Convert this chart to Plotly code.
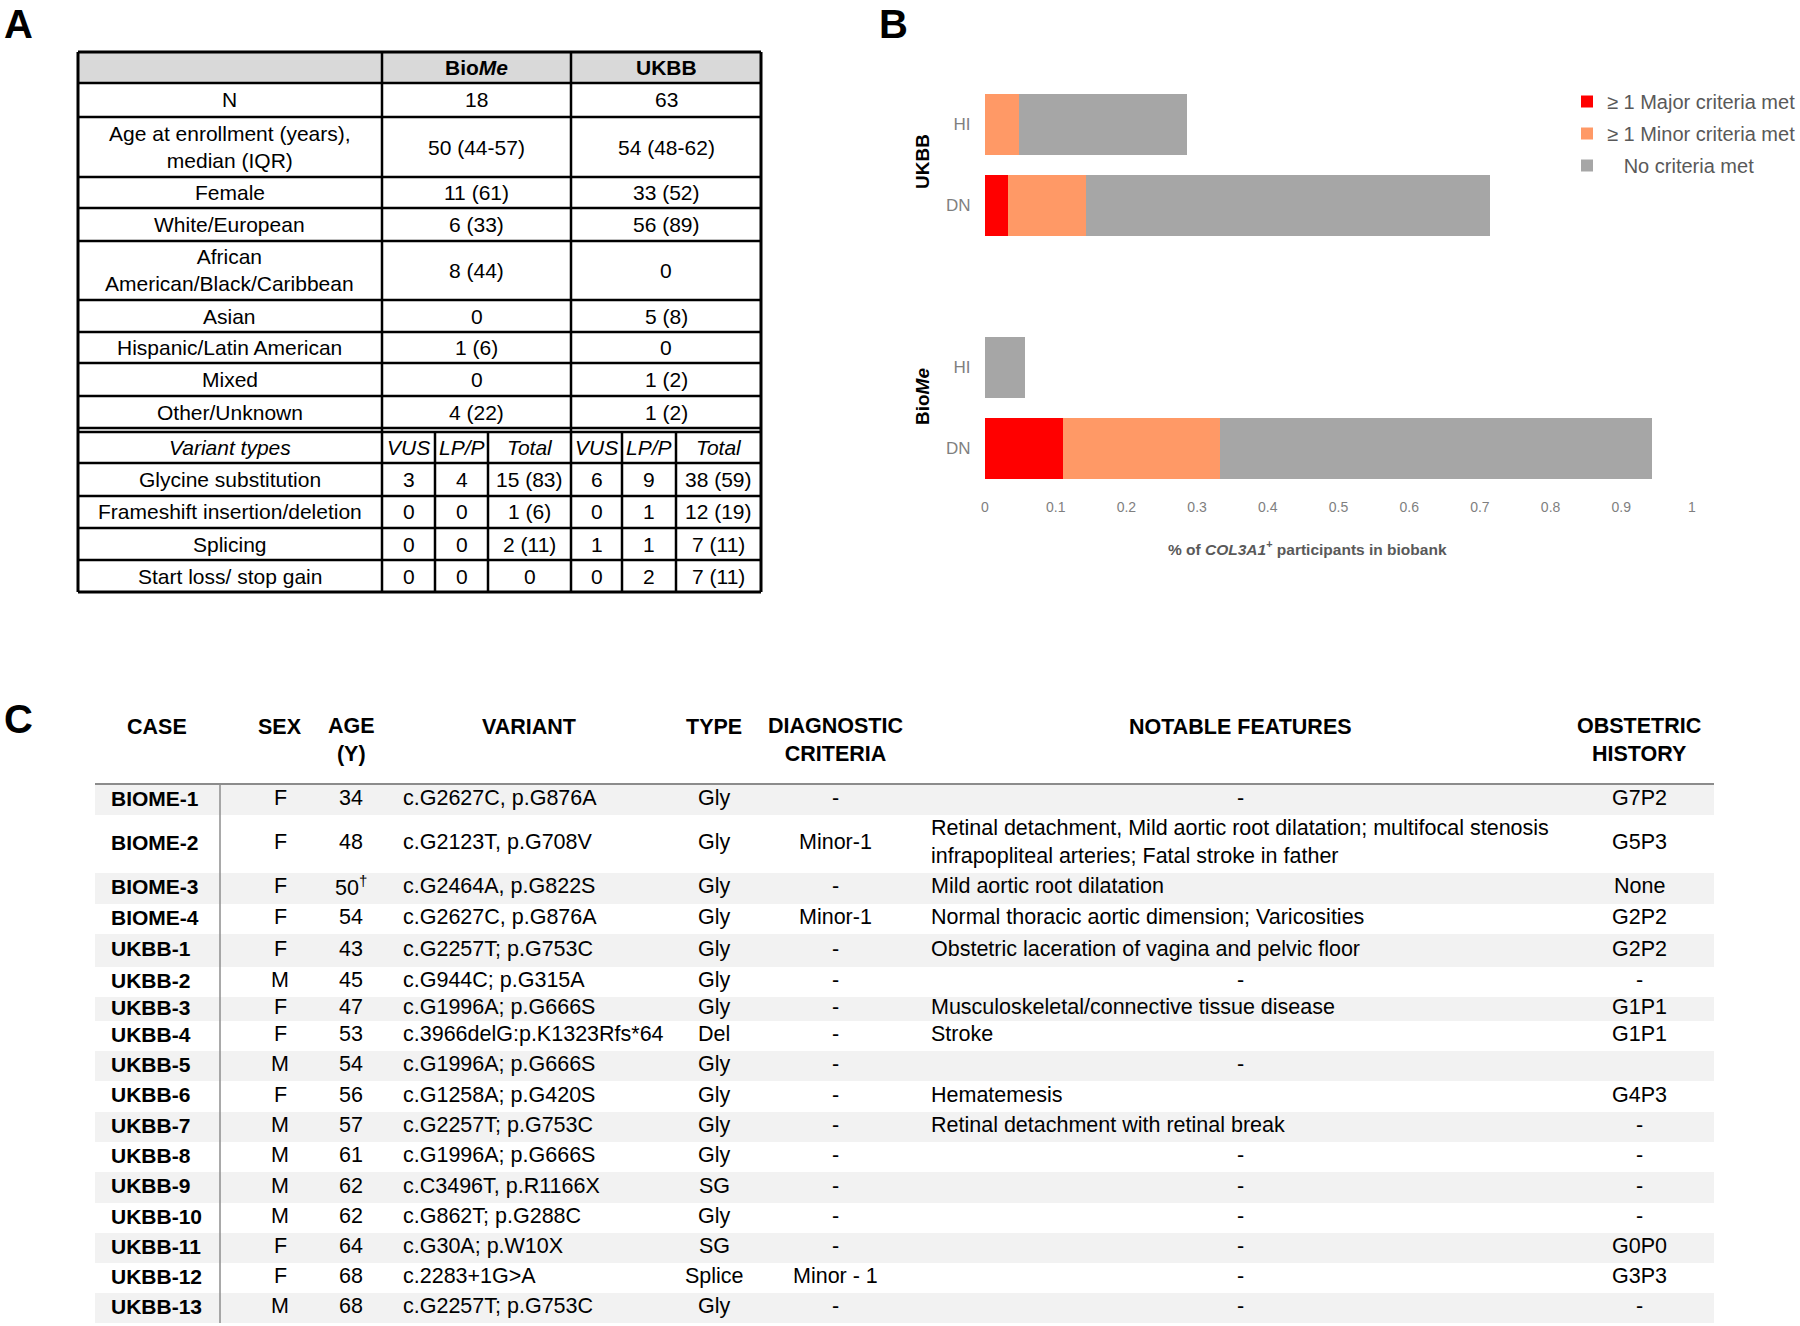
import plotly.graph_objects as go

# ---------------- DATA ----------------
# Panel A
a_row_labels = ["N", "Age at enrollment (years),<br>median (IQR)", "Female", "White/European",
                "African<br>American/Black/Caribbean", "Asian", "Hispanic/Latin American",
                "Mixed", "Other/Unknown"]
a_biome = ["18", "50 (44-57)", "11 (61)", "6 (33)", "8 (44)", "0", "1 (6)", "0", "4 (22)"]
a_ukbb = ["63", "54 (48-62)", "33 (52)", "56 (89)", "0", "5 (8)", "0", "1 (2)", "1 (2)"]
variant_types = ["Glycine substitution", "Frameshift insertion/deletion", "Splicing", "Start loss/ stop gain"]
biome_vus = ["3", "0", "0", "0"]
biome_lpp = ["4", "0", "0", "0"]
biome_total = ["15 (83)", "1 (6)", "2 (11)", "0"]
ukbb_vus = ["6", "0", "1", "0"]
ukbb_lpp = ["9", "1", "1", "2"]
ukbb_total = ["38 (59)", "12 (19)", "7 (11)", "7 (11)"]

# Panel B
bar_categories = ["UKBB HI", "UKBB DN", "BioMe HI", "BioMe DN"]
bar_ticktext = ["HI", "DN", "HI", "DN"]
major_met = [0.0, 0.032, 0.0, 0.111]
minor_met = [0.048, 0.111, 0.0, 0.222]
no_criteria = [0.238, 0.571, 0.056, 0.611]
series_names = ["≥ 1 Major criteria met", "≥ 1 Minor criteria met", "\u00a0\u00a0\u00a0No criteria met"]

# Panel C
c_headers = ["CASE", "SEX", "AGE<br>(Y)", "VARIANT", "TYPE", "DIAGNOSTIC<br>CRITERIA",
             "NOTABLE FEATURES", "OBSTETRIC<br>HISTORY"]
cases = ["BIOME-1", "BIOME-2", "BIOME-3", "BIOME-4", "UKBB-1", "UKBB-2", "UKBB-3", "UKBB-4",
         "UKBB-5", "UKBB-6", "UKBB-7", "UKBB-8", "UKBB-9", "UKBB-10", "UKBB-11", "UKBB-12", "UKBB-13"]
sexes = ["F", "F", "F", "F", "F", "M", "F", "F", "M", "F", "M", "M", "M", "M", "F", "F", "M"]
ages = ["34", "48", "50<sup>†</sup>", "54", "43", "45", "47", "53", "54", "56", "57", "61", "62",
        "62", "64", "68", "68"]
variants = ["c.G2627C, p.G876A", "c.G2123T, p.G708V", "c.G2464A, p.G822S", "c.G2627C, p.G876A",
            "c.G2257T; p.G753C", "c.G944C; p.G315A", "c.G1996A; p.G666S", "c.3966delG:p.K1323Rfs*64",
            "c.G1996A; p.G666S", "c.G1258A; p.G420S", "c.G2257T; p.G753C", "c.G1996A; p.G666S",
            "c.C3496T, p.R1166X", "c.G862T; p.G288C", "c.G30A; p.W10X", "c.2283+1G>A",
            "c.G2257T; p.G753C"]
vtypes = ["Gly", "Gly", "Gly", "Gly", "Gly", "Gly", "Gly", "Del", "Gly", "Gly", "Gly", "Gly", "SG",
          "Gly", "SG", "Splice", "Gly"]
criteria = ["-", "Minor-1", "-", "Minor-1", "-", "-", "-", "-", "-", "-", "-", "-", "-", "-", "-",
            "Minor - 1", "-"]
features = ["-",
            "Retinal detachment, Mild aortic root dilatation; multifocal stenosis<br>infrapopliteal arteries; Fatal stroke in father",
            "Mild aortic root dilatation", "Normal thoracic aortic dimension; Varicosities",
            "Obstetric laceration of vagina and pelvic floor", "-",
            "Musculoskeletal/connective tissue disease", "Stroke", "-", "Hematemesis",
            "Retinal detachment with retinal break", "-", "-", "-", "-", "-", "-"]
obstetric = ["G7P2", "G5P3", "None", "G2P2", "G2P2", "-", "G1P1", "G1P1", "", "G4P3", "-", "-",
             "-", "-", "G0P0", "G3P3", "-"]

# ---------------- LAYOUT HELPERS ----------------
W, H = 1800, 1326
FONT = "Liberation Sans, Arial, sans-serif"
annotations = []
shapes = []


def X(px):
    return px / W


def Y(py):
    return 1 - py / H


def txt(x, y, s, size=21, anchor="center", color="black", angle=0, yanchor="middle"):
    annotations.append(dict(x=X(x), y=Y(y), xref="paper", yref="paper", text=s, showarrow=False,
                            xanchor=anchor, yanchor=yanchor, textangle=angle,
                            align=anchor if anchor != "center" else "center",
                            font=dict(family=FONT, size=size, color=color)))


def line(x0, y0, x1, y1, w=2.5, color="black"):
    shapes.append(dict(type="line", xref="paper", yref="paper", x0=X(x0), y0=Y(y0), x1=X(x1),
                       y1=Y(y1), line=dict(color=color, width=w)))


def rect(x0, y0, x1, y1, fill):
    shapes.append(dict(type="rect", xref="paper", yref="paper", x0=X(x0), y0=Y(y0), x1=X(x1),
                       y1=Y(y1), fillcolor=fill, line=dict(width=0), layer="below"))


# ---------------- PANEL A ----------------
A_FS = 21
A_L, A_C1, A_C2, A_R = 78, 382, 571, 761
A_SUB = [435, 488, 622, 676]
A_ROWS = [52, 83, 117, 177, 208, 241, 300, 332, 363, 396, 428]
A_VROWS = [432, 463, 496, 528, 560, 592]

rect(A_L, A_ROWS[0], A_R, A_ROWS[1], "#d9d9d9")
for yy in A_ROWS[1:]:
    line(A_L, yy, A_R, yy, 2.5)
for yy in A_VROWS[:-1]:
    line(A_L, yy, A_R, yy, 2.5)
line(A_L, 430, A_R, 430, 1.2, "#bfbfbf")
line(A_L, A_ROWS[0], A_R, A_ROWS[0], 3)
line(A_L, A_VROWS[-1], A_R, A_VROWS[-1], 3)
line(A_L, A_ROWS[0], A_L, A_VROWS[-1], 3)
line(A_R, A_ROWS[0], A_R, A_VROWS[-1], 3)
line(A_C1, A_ROWS[0], A_C1, A_VROWS[-1], 2.5)
line(A_C2, A_ROWS[0], A_C2, A_VROWS[-1], 2.5)
for xx in A_SUB:
    line(xx, A_VROWS[0], xx, A_VROWS[-1], 2.5)

lab_cx = (A_L + A_C1) / 2
bio_cx = (A_C1 + A_C2) / 2
uk_cx = (A_C2 + A_R) / 2
hy = (A_ROWS[0] + A_ROWS[1]) / 2
txt(bio_cx, hy, "<b>Bio<i>Me</i></b>", A_FS)
txt(uk_cx, hy, "<b>UKBB</b>", A_FS)
for i, lab in enumerate(a_row_labels):
    cy = (A_ROWS[i + 1] + A_ROWS[i + 2]) / 2
    txt(lab_cx, cy, lab, A_FS)
    txt(bio_cx, cy, a_biome[i], A_FS)
    txt(uk_cx, cy, a_ukbb[i], A_FS)

sub_cx = [(A_C1 + A_SUB[0]) / 2, (A_SUB[0] + A_SUB[1]) / 2, (A_SUB[1] + A_C2) / 2,
          (A_C2 + A_SUB[2]) / 2, (A_SUB[2] + A_SUB[3]) / 2, (A_SUB[3] + A_R) / 2]
vy = (A_VROWS[0] + A_VROWS[1]) / 2
txt(lab_cx, vy, "<i>Variant types</i>", A_FS)
for cx, s in zip(sub_cx, ["VUS", "LP/P", "Total", "VUS", "LP/P", "Total"]):
    txt(cx, vy, "<i>" + s + "</i>", A_FS)
for i, vt in enumerate(variant_types):
    cy = (A_VROWS[i + 1] + A_VROWS[i + 2]) / 2
    txt(lab_cx, cy, vt, A_FS)
    for cx, s in zip(sub_cx, [biome_vus[i], biome_lpp[i], biome_total[i],
                              ukbb_vus[i], ukbb_lpp[i], ukbb_total[i]]):
        txt(cx, cy, s, A_FS)

# ---------------- PANEL C ----------------
C_FS = 21.5
C_L, C_R = 95, 1714
C_ROWS = [785, 815, 873, 904, 934, 967, 997, 1021, 1051, 1081, 1112, 1142, 1172, 1203, 1233,
          1263, 1293, 1323]
C_HEAD_X = [157, 280, 351, 529, 714, 835, 1240, 1639]
for i in range(len(cases)):
    if i % 2 == 0:
        rect(C_L, C_ROWS[i], C_R, C_ROWS[i + 1], "#f2f2f2")
line(C_L, 784, C_R, 784, 2, "#8c8c8c")
line(220, 784, 220, 1323, 1.5, "#8c8c8c")
for cx, hd in zip(C_HEAD_X, c_headers):
    n = hd.count("<br>")
    txt(cx, 727 + 12.5 * n, "<b>" + hd + "</b>", C_FS)

for i in range(len(cases)):
    cy = (C_ROWS[i] + C_ROWS[i + 1]) / 2 - 2
    txt(109, cy, "<b>" + cases[i] + "</b>", 21, anchor="left")
    txt(280, cy, sexes[i], C_FS)
    txt(351, cy, ages[i], C_FS)
    txt(401, cy, variants[i].replace(">", "&gt;"), C_FS, anchor="left")
    txt(714, cy, vtypes[i], C_FS)
    txt(835, cy, criteria[i], C_FS)
    if features[i] == "-":
        txt(1240, cy, "-", C_FS)
    else:
        txt(929, cy, features[i], C_FS, anchor="left")
    if obstetric[i]:
        txt(1639, cy, obstetric[i], C_FS)

# ---------------- PANEL LABELS ----------------
txt(2, 0, "<b>A</b>", 40, anchor="left", yanchor="top")
txt(877, 0, "<b>B</b>", 40, anchor="left", yanchor="top")
txt(2, 719, "<b>C</b>", 40, anchor="left")

# ---------------- PANEL B (bar chart) ----------------
fig = go.Figure()
colors = ["#ff0000", "#ff9966", "#a6a6a6"]
for name, vals, col, grp in zip(series_names, [major_met, minor_met, no_criteria], colors,
                                ["g1", "g2", "g3"]):
    fig.add_trace(go.Bar(y=bar_categories, x=vals, orientation="h", name=name,
                         marker=dict(color=col, line=dict(width=0)), legendgroup=grp))

txt(922, 162, "<b>UKBB</b>", 19, angle=-90)
txt(922, 397, "<b>Bio<i>Me</i></b>", 19, angle=-90)
txt(1307, 548, "<b>% of <i>COL3A1</i><sup>+</sup> participants in biobank</b>", 15.5,
    color="#595959")

fig.update_layout(
    width=W, height=H,
    margin=dict(l=0, r=0, t=0, b=0, autoexpand=False),
    paper_bgcolor="white", plot_bgcolor="white",
    barmode="stack", bargap=0.25,
    font=dict(family=FONT),
    xaxis=dict(domain=[X(985), X(1692)], range=[0, 1], tick0=0, dtick=0.1, showgrid=False,
               zeroline=False, showline=False, ticks="outside", ticklen=5,
               tickcolor="rgba(0,0,0,0)", tickfont=dict(size=14, color="#7f7f7f")),
    yaxis=dict(domain=[Y(489), Y(84)], type="category", categoryorder="array",
               categoryarray=[bar_categories[0], bar_categories[1], " ", bar_categories[2],
                              bar_categories[3]],
               range=[4.5, -0.5], tickvals=bar_categories, ticktext=bar_ticktext,
               showgrid=False, zeroline=False, showline=False, ticks="outside", ticklen=10,
               tickcolor="rgba(0,0,0,0)", tickfont=dict(size=17, color="#7f7f7f")),
    legend=dict(x=X(1567), y=Y(82), xanchor="left", yanchor="top", traceorder="grouped",
                tracegroupgap=3, itemwidth=30, bgcolor="rgba(0,0,0,0)",
                font=dict(size=20, color="#595959", family=FONT)),
    annotations=annotations, shapes=shapes,
)

fig.write_html("out.html", config={"displayModeBar": False},
               post_script="document.body.style.margin='0px';")
